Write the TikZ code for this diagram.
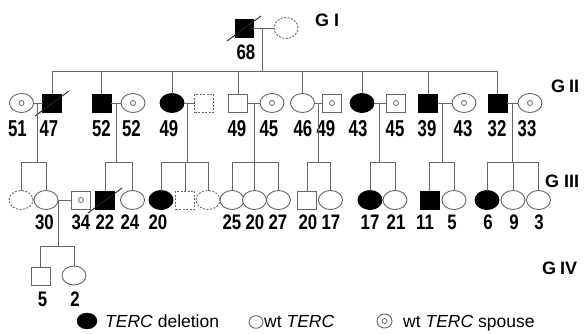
\documentclass[tikz,border=0pt]{standalone}
\usepackage{fontspec}
\setmainfont{Liberation Sans}
\newfontfamily\numA[FakeStretch=0.8]{Liberation Sans}
\newfontfamily\numB[FakeStretch=0.73]{Liberation Sans}
\usetikzlibrary{shapes.geometric,calc}
\begin{document}
\begin{tikzpicture}[x=1pt,y=-1pt,
  ln/.style={draw=black!60, line width=0.9pt},
  sym/.style={ln, fill=white, inner sep=0pt, outer sep=0pt},
  male/.style={sym, rectangle, minimum width=19pt, minimum height=18pt},
  female/.style={sym, ellipse, minimum width=24pt, minimum height=19pt},
  aff/.style={fill=black, draw=black},
  unk/.style={dash pattern=on 2pt off 1.5pt},
  spouse/.style={path picture={\draw[black!60, line width=0.8pt] (path picture bounding box.center) circle (2.5pt);}},
  slash/.style={draw=black!85, line width=0.9pt},
  numa/.style={font=\numA\bfseries\fontsize{21}{21}\selectfont, inner sep=0pt},
  numb/.style={font=\numB\bfseries\fontsize{23}{23}\selectfont, inner sep=0pt},
  gen/.style={font=\bfseries\fontsize{18}{18}\selectfont, inner sep=0pt, anchor=west},
  leg/.style={font=\fontsize{17.5}{17.5}\selectfont, inner sep=0pt, anchor=base west},
]
\useasboundingbox (0,0) rectangle (587,333);

% ---------- generation I ----------
\node[male,aff,minimum width=18pt] (i1) at (244,28) {};
\node[female,unk,minimum height=21pt] (i2) at (286,28) {};
\draw[slash] ($(i1)+(-17,13)$) -- ($(i1)+(17,-12)$);
\draw[ln] (i1.east) -- (i2.west);
\coordinate (m0) at (262,28);
\node[numa] (l0) at (246,52) {68};

% ---------- generation II ----------
\coordinate (s2) at (0,71);
\node[female,spouse] (g2a) at (21.5,103) {};
\node[male,aff] (g2b) at (52,103) {};
\node[male,aff] (g2c) at (101.5,103) {};
\node[female,spouse] (g2d) at (133,103) {};
\node[female,aff] (g2e) at (172,103) {};
\node[male,unk] (g2f) at (204,103) {};
\node[male] (g2g) at (238,103) {};
\node[female,spouse] (g2h) at (272,103) {};
\node[female] (g2i) at (302.5,103) {};
\node[male,spouse] (g2j) at (332,103) {};
\node[female,aff] (g2k) at (362,103) {};
\node[male,spouse] (g2l) at (396,103) {};
\node[male,aff] (g2m) at (428,103) {};
\node[female,spouse] (g2n) at (464,103) {};
\node[male,aff] (g2o) at (497.5,103) {};
\node[female,spouse] (g2p) at (530,103) {};
\draw[slash] ($(g2b)+(-17,13)$) -- ($(g2b)+(17,-12)$);

\draw[ln] (m0) -- (m0 |- s2);
\draw[ln] (g2b |- s2) -- (g2o |- s2);
\foreach \c in {g2b,g2c,g2e,g2g,g2i,g2k,g2m,g2o}
  \draw[ln] (\c |- s2) -- (\c.north);

\foreach \a/\b in {g2a/g2b,g2c/g2d,g2e/g2f,g2g/g2h,g2i/g2j,g2k/g2l,g2m/g2n,g2o/g2p}
  \draw[ln] (\a.east) -- (\b.west);

\foreach \t/\x [count=\i] in {51/17.5,47/49,52/101.5,52/131.5,49/169,49/237,45/269,46/303,49/326,43/358,45/395,39/427,43/463,32/497,33/527}
  \node[numb] (lb\i) at (\x,129) {\t};

% ---------- generation III ----------
\coordinate (s3) at (0,162);
\node[female,unk] (c1a) at (21,200) {};
\node[female] (c1b) at (46,200) {};
\node[male,spouse] (c1c) at (81,200) {};
\node[male,aff] (c2a) at (105,200) {};
\node[female] (c2b) at (132.5,200) {};
\node[female,aff] (c3a) at (161,200) {};
\node[male,unk] (c3b) at (185,200) {};
\node[female,unk] (c3c) at (208,200) {};
\node[female] (c4a) at (232,200) {};
\node[female] (c4b) at (254.5,200) {};
\node[female] (c4c) at (278.5,200) {};
\node[male] (c5a) at (307,200) {};
\node[female] (c5b) at (330.5,200) {};
\node[female,aff] (c6a) at (370,200) {};
\node[female] (c6b) at (395,200) {};
\node[male,aff] (c7a) at (429.5,200) {};
\node[female] (c7b) at (454,200) {};
\node[female,aff] (c8a) at (487,200) {};
\node[female] (c8b) at (513,200) {};
\node[female] (c8c) at (538.5,200) {};
\draw[slash] ($(c2a)+(-17,13)$) -- ($(c2a)+(17,-12)$);

\foreach \x/\f/\l [count=\i] in {37.5/c1a/c1b,116.5/c2a/c2b,187/c3a/c3c,254/c4a/c4c,318.5/c5a/c5b,379/c6a/c6b,442/c7a/c7b,512/c8a/c8c}{
  \coordinate (m\i) at (\x,103);
  \draw[ln] (m\i) -- (m\i |- s3);
  \draw[ln] (\f |- s3) -- (\l |- s3);
}
\foreach \c in {c1a,c1b,c2a,c2b,c3a,c3b,c3c,c4a,c4b,c4c,c5a,c5b,c6a,c6b,c7a,c7b,c8a,c8b,c8c}
  \draw[ln] (\c |- s3) -- (\c.north);

\draw[ln] (c1b.east) -- (c1c.west);

\foreach \t/\x [count=\i] in {30/44.5,34/81,22/105,24/130,20/158,25/232,20/255,27/278,20/308,17/331,17/370,21/396,11/425,5/452,6/488,9/514,3/539}
  \node[numa] (lc\i) at (\x,222.5) {\t};

% ---------- generation IV ----------
\coordinate (m9) at (58.5,200);
\coordinate (s4) at (0,246);
\node[male] (d1) at (40.5,276) {};
\node[female] (d2) at (74,275.5) {};
\draw[ln] (m9) -- (m9 |- s4);
\draw[ln] (d1 |- s4) -- (d2 |- s4);
\draw[ln] (d1 |- s4) -- (d1.north);
\draw[ln] (d2 |- s4) -- (d2.north);
\node[numa] (ld1) at (42.5,299) {5};
\node[numa] (ld2) at (75,299) {2};

% ---------- generation labels ----------
\node[gen] (gi) at (315,20) {G\hspace{5pt}I};
\node[gen] (gii) at (551,86.5) {G\hspace{4pt}II};
\node[gen] (giii) at (545,181) {G\hspace{5pt}III};
\node[gen] (giv) at (542,268.5) {G\hspace{4pt}IV};

% ---------- legend ----------
\node[ellipse,fill=black,draw=black,inner sep=0pt,minimum width=20pt,minimum height=16pt] (k1) at (87,321) {};
\node[leg] (t1) at (105,327.5) {\textit{TERC} deletion};
\node[ellipse,ln,inner sep=0pt,minimum width=14pt,minimum height=12.5pt] (k2) at (256,322) {};
\node[leg] (t2) at (264,327.5) {wt \textit{TERC}};
\node[ellipse,ln,spouse,inner sep=0pt,minimum width=15pt,minimum height=14pt] (k3) at (384.5,321) {};
\node[leg] (t3) at (403,327.5) {wt \textit{TERC} spouse};
\end{tikzpicture}
\end{document}
